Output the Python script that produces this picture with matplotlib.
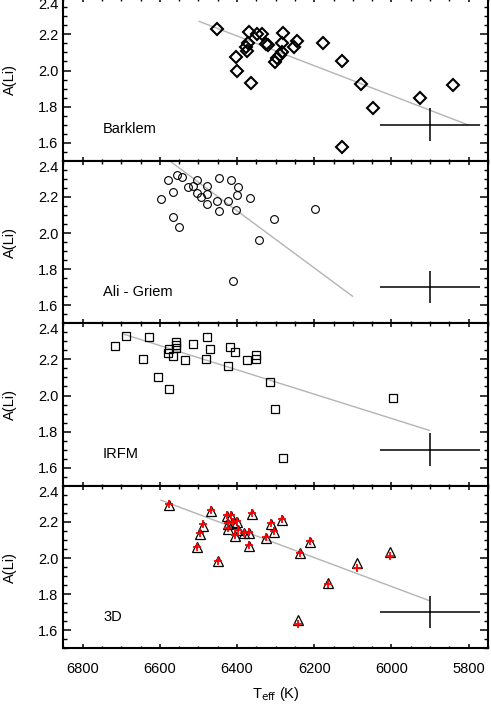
import numpy as np
import matplotlib
matplotlib.use('Agg')
import matplotlib.pyplot as plt
from matplotlib.ticker import MultipleLocator

plt.rcParams['font.family'] = ['Liberation Sans', 'DejaVu Sans']
plt.rcParams['font.size'] = 10.5

# --- data ---
# Barklem
t_bar = [6452, 6369, 6349, 6336, 6281, 6371, 6378, 6375, 6324, 6321, 6284, 6245, 6253,
         6403, 6399, 6363, 6301, 6296, 6290, 6284, 6178, 6128, 6078, 6049, 6129, 5925, 5840]
a_bar = [2.23, 2.213, 2.20, 2.20, 2.21, 2.15, 2.133, 2.11, 2.146, 2.14, 2.15, 2.165, 2.128,
         2.076, 1.997, 1.93, 2.048, 2.067, 2.087, 2.10, 2.154, 2.054, 1.928, 1.793, 1.578, 1.85, 1.919]
fit_bar_t = [6498, 5803]
fit_bar_a = [2.272, 1.70]

# Ali - Griem
t_ag = [6597, 6578, 6555, 6542, 6565, 6565, 6550, 6527, 6515, 6505, 6503, 6494, 6478, 6477,
        6477, 6452, 6448, 6448, 6424, 6415, 6403, 6401, 6397, 6367, 6411, 6344, 6304, 6198]
a_ag = [2.189, 2.291, 2.32, 2.309, 2.226, 2.087, 2.032, 2.256, 2.26, 2.291, 2.219, 2.198, 2.215, 2.263,
        2.163, 2.178, 2.306, 2.121, 2.176, 2.291, 2.13, 2.211, 2.254, 2.193, 1.732, 1.963, 2.078, 2.133]
fit_ag_t = [6575, 6101]
fit_ag_a = [2.40, 1.65]

# IRFM
t_ir = [6715, 6687, 6628, 6644, 6604, 6576, 6579, 6576, 6567, 6559, 6557, 6557, 6536, 6515,
        6479, 6480, 6470, 6424, 6417, 6404, 6374, 6352, 6352, 6314, 6301, 6281, 5995]
a_ir = [2.272, 2.328, 2.324, 2.202, 2.10, 2.037, 2.237, 2.259, 2.218, 2.296, 2.263, 2.28, 2.194, 2.285,
        2.324, 2.20, 2.259, 2.163, 2.27, 2.241, 2.196, 2.222, 2.204, 2.074, 1.928, 1.656, 1.989]
fit_ir_t = [6694, 5902]
fit_ir_a = [2.34, 1.807]

# 3D (triangles) and second estimate (red crosses)
t_3d = [6577, 6467, 6427, 6415, 6361, 6489, 6496, 6504, 6449, 6423, 6410, 6400, 6397, 6405,
        6381, 6368, 6370, 6423, 6325, 6312, 6305, 6283, 6212, 6237, 6164, 6090, 6004, 6241]
a_3d = [2.294, 2.261, 2.235, 2.235, 2.246, 2.18, 2.131, 2.061, 1.985, 2.189, 2.194, 2.198, 2.153, 2.12,
        2.139, 2.139, 2.068, 2.16, 2.111, 2.189, 2.144, 2.209, 2.09, 2.028, 1.864, 1.972, 2.031, 1.657]
a_3d_red = [2.30, 2.267, 2.24, 2.24, 2.252, 2.186, 2.137, 2.061, 1.985, 2.195, 2.2, 2.204, 2.153, 2.126,
            2.139, 2.145, 2.074, 2.166, 2.117, 2.195, 2.15, 2.215, 2.096, 2.028, 1.858, 1.943, 2.009, 1.635]
fit_3d_t = [6597, 5902]
fit_3d_a = [2.32, 1.764]

labels = ['Barklem', 'Ali - Griem', 'IRFM', '3D']

# typical error bar
err_t, err_a = 5900, 1.70
err_dt, err_da = 130, 0.09

W, H = 491, 721
fig = plt.figure(figsize=(W / 100, H / 100), dpi=100)

left = 63.3 / W
width = (488 - 63.3) / W
ph = 162.5 / H
bottom0 = 1 - 648.3 / H

axes = []
for i in range(4):
    b = bottom0 + (3 - i) * ph
    ax = fig.add_axes([left, b, width, ph])
    axes.append(ax)

series = [
    (t_bar, a_bar, dict(marker='D', ms=6.2, mew=1.5), fit_bar_t, fit_bar_a),
    (t_ag, a_ag, dict(marker='o', ms=5.6, mew=0.8), fit_ag_t, fit_ag_a),
    (t_ir, a_ir, dict(marker='s', ms=5.4, mew=0.9), fit_ir_t, fit_ir_a),
    (t_3d, a_3d, dict(marker='^', ms=7.6, mew=0.9), fit_3d_t, fit_3d_a),
]

for i, ax in enumerate(axes):
    t, a, mk, ft, fa = series[i]
    ax.plot(ft, fa, color='#b4b4b4', lw=1.0, zorder=1)
    ax.plot(t, a, ls='none', mfc='none', mec='black', zorder=3, **mk)
    if i == 3:
        ax.plot(t_3d, a_3d_red, ls='none', marker='+', ms=5.5, mew=1.3, color='red', zorder=4)
    ax.errorbar([err_t], [err_a], xerr=[err_dt], yerr=[err_da], fmt='none',
                ecolor='black', elinewidth=1.1, capsize=0, zorder=2)
    ax.text(0.0935, (1.675 - 1.5) / 0.9, labels[i], transform=ax.transAxes,
            ha='left', va='center', fontsize=10.5)

    ax.set_xlim(6850, 5750)
    ax.set_ylim(1.5, 2.4)
    ax.set_yticks([1.6, 1.8, 2.0, 2.2, 2.4])
    ax.set_yticklabels(['1.6', '1.8', '2.0', '2.2', '2.4'])
    ax.xaxis.set_major_locator(MultipleLocator(200))
    ax.xaxis.set_minor_locator(MultipleLocator(50))
    ax.yaxis.set_minor_locator(MultipleLocator(0.05))
    ax.tick_params(axis='y', which='major', direction='in', length=5.8, width=1.1,
                   left=True, right=True, pad=3.5, labelsize=10.5)
    ax.tick_params(axis='y', which='minor', direction='in', length=2.9, width=1.0,
                   left=True, right=True)
    ax.tick_params(axis='x', which='major', direction='in', length=3.0, width=1.1,
                   top=True, bottom=True, pad=10, labelsize=10.5)
    ax.tick_params(axis='x', which='minor', direction='in', length=1.8, width=1.0,
                   top=True, bottom=True)
    for s in ax.spines.values():
        s.set_linewidth(1.5)
    ax.get_yticklabels()[-1].set_verticalalignment('top')
    ax.set_ylabel('A(Li)', fontsize=10.5)
    ax.yaxis.set_label_coords(-0.109, 0.5)
    if i < 3:
        ax.tick_params(axis='x', labelbottom=False)

axes[3].set_xlabel(r'T$_{\rm eff}$ (K)', fontsize=10.5)
axes[3].xaxis.set_label_coords(0.5, -0.225)

fig.savefig('out.png', dpi=100)
